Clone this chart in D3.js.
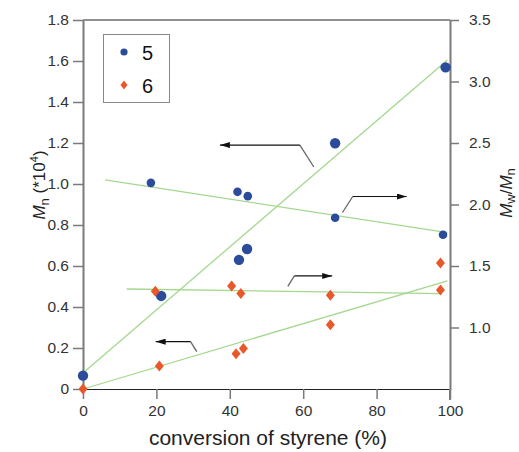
<!DOCTYPE html>
<html><head><meta charset="utf-8">
<script src="https://cdn.jsdelivr.net/npm/d3@7"></script>
<style>body{margin:0;background:#fff;} svg{display:block;font-family:"Liberation Sans",Arial,sans-serif;}</style>
</head><body><svg id="c" width="519" height="452"></svg>
<script>
// ---- data ----
const xTicks = [0, 20, 40, 60, 80, 100];
const leftTicks = [0, 0.2, 0.4, 0.6, 0.8, 1.0, 1.2, 1.4, 1.6, 1.8];
const leftTickLabels = ["0", "0.2", "0.4", "0.6", "0.8", "1.0", "1.2", "1.4", "1.6", "1.8"];
const rightTicks = [1.0, 1.5, 2.0, 2.5, 3.0, 3.5];
const rightTickLabels = ["1.0", "1.5", "2.0", "2.5", "3.0", "3.5"];
const legendLabels = ["5", "6"];

// series 5 (blue)
const s5MnConv = [0, 21.3, 42.5, 44.7, 68.7, 98.8];
const s5Mn = [0.065, 0.454, 0.63, 0.683, 1.199, 1.569];
const s5PdiConv = [18.5, 42.1, 44.9, 68.7, 98.1];
const s5Pdi = [2.176, 2.103, 2.068, 1.892, 1.754];
// series 6 (orange)
const s6MnConv = [0, 20.8, 41.7, 43.7, 67.4, 97.4];
const s6Mn = [0, 0.112, 0.172, 0.197, 0.314, 0.483];
const s6PdiConv = [19.7, 40.5, 43.0, 67.4, 97.4];
const s6Pdi = [1.295, 1.338, 1.276, 1.262, 1.524];

// fit lines [conv, value] pairs
const fit5Mn = [[0, 0.078], [99.3, 1.605]];
const fit6Mn = [[0, 0], [99.3, 0.528]];
const fit5Pdi = [[6.0, 2.2], [99.3, 1.771]];
const fit6Pdi = [[11.9, 1.313], [97.4, 1.276]];

// annotation arrows: axis side, points [conv, value]
const arrows = [
  {axis: "L", pts: [[62.9, 1.083], [59.1, 1.19], [37.3, 1.19]]},
  {axis: "R", pts: [[70.7, 1.935], [73.5, 2.065], [88.2, 2.065]]},
  {axis: "R", pts: [[55.8, 1.335], [57.6, 1.419], [67.9, 1.419]]},
  {axis: "L", pts: [[31.0, 0.182], [29.3, 0.231], [19.8, 0.231]]}
];

// ---- drawing ----
const blue = "#2b4c9b", orange = "#e8582a", green = "#a3d88e", axisGray = "#7a7a7a", txt = "#333";
const svg = d3.select("#c");
const x = d3.scaleLinear().domain([0, 100]).range([83, 450]);
const yL = d3.scaleLinear().domain([0, 1.8]).range([389, 20]);
const yR = d3.scaleLinear().domain([0.5, 3.5]).range([389, 20]);

// frame top
svg.append("line").attr("x1", 83).attr("x2", 450).attr("y1", 20).attr("y2", 20).attr("stroke", "#222").attr("stroke-width", 1);

// bottom axis
const gx = svg.append("g").attr("transform", "translate(0,389)")
  .call(d3.axisBottom(x).tickValues(xTicks).tickFormat(d3.format("d")).tickSize(10).tickPadding(6));
gx.select(".domain").attr("stroke", "#222").attr("stroke-width", 1);
gx.selectAll(".tick line").attr("stroke", axisGray).attr("stroke-width", 1.5);
gx.selectAll(".tick text").attr("fill", txt).attr("font-size", 15.5).attr("font-family", "Liberation Sans, Arial, sans-serif");

// left axis
const gl = svg.append("g").attr("transform", "translate(83,0)")
  .call(d3.axisLeft(yL).tickValues(leftTicks).tickFormat((d, i) => leftTickLabels[i]).tickSize(10).tickSizeOuter(0).tickPadding(4));
gl.select(".domain").attr("stroke", axisGray).attr("stroke-width", 2);
gl.selectAll(".tick line").attr("stroke", axisGray).attr("stroke-width", 1.5);
gl.selectAll(".tick text").attr("fill", txt).attr("font-size", 15.5).attr("font-family", "Liberation Sans, Arial, sans-serif");

// right axis
const gr = svg.append("g").attr("transform", "translate(450,0)")
  .call(d3.axisRight(yR).tickValues(rightTicks).tickFormat((d, i) => rightTickLabels[i]).tickSize(9).tickSizeOuter(0).tickPadding(10));
gr.select(".domain").attr("stroke", axisGray).attr("stroke-width", 2);
gr.selectAll(".tick line").attr("stroke", axisGray).attr("stroke-width", 1.5);
gr.selectAll(".tick text").attr("fill", txt).attr("font-size", 15.5).attr("font-family", "Liberation Sans, Arial, sans-serif");
svg.append("line").attr("x1", 450).attr("x2", 450).attr("y1", 389).attr("y2", 400).attr("stroke", axisGray).attr("stroke-width", 2);

// fit lines
const lineL = d3.line().x(d => x(d[0])).y(d => yL(d[1]));
const lineR = d3.line().x(d => x(d[0])).y(d => yR(d[1]));
[[fit5Mn, lineL], [fit6Mn, lineL], [fit5Pdi, lineR], [fit6Pdi, lineR]].forEach(([d, l]) => {
  svg.append("path").attr("d", l(d)).attr("fill", "none").attr("stroke", green).attr("stroke-width", 1.3);
});

// arrows
svg.append("defs").append("marker").attr("id", "ah").attr("viewBox", "0 0 10 6")
  .attr("refX", 10).attr("refY", 3).attr("markerWidth", 10).attr("markerHeight", 6)
  .attr("markerUnits", "userSpaceOnUse").attr("orient", "auto")
  .append("path").attr("d", "M0,0L10,3L0,6Z").attr("fill", "#111");
arrows.forEach(a => {
  const l = a.axis === "L" ? lineL : lineR;
  svg.append("path").attr("d", l(a.pts.slice(0, 2))).attr("fill", "none").attr("stroke", "#666").attr("stroke-width", 1.3);
  svg.append("path").attr("d", l(a.pts.slice(1))).attr("fill", "none").attr("stroke", "#111").attr("stroke-width", 1.2).attr("marker-end", "url(#ah)");
});

// markers
const diamond = (cx, cy, w, h) => `M${cx},${cy - h}L${cx + w},${cy}L${cx},${cy + h}L${cx - w},${cy}Z`;
function circles(conv, vals, scale, r) {
  svg.append("g").selectAll("circle").data(conv).join("circle")
    .attr("cx", d => x(d)).attr("cy", (d, i) => scale(vals[i])).attr("r", r).attr("fill", blue);
}
function diamonds(conv, vals, scale) {
  svg.append("g").selectAll("path").data(conv).join("path")
    .attr("d", (d, i) => diamond(x(d), scale(vals[i]), 4.5, 5.5)).attr("fill", orange);
}
circles(s5PdiConv, s5Pdi, yR, 4.3);
circles(s5MnConv, s5Mn, yL, 5.2);
diamonds(s6PdiConv, s6Pdi, yR);
diamonds(s6MnConv, s6Mn, yL);

// legend
const lg = svg.append("g");
lg.append("rect").attr("x", 103.5).attr("y", 34.5).attr("width", 66).attr("height", 68).attr("fill", "#fff").attr("stroke", "#888").attr("stroke-width", 1);
lg.append("circle").attr("cx", 124).attr("cy", 52).attr("r", 3.6).attr("fill", blue);
lg.append("path").attr("d", diamond(124, 85, 3.5, 4.5)).attr("fill", orange);
lg.append("text").attr("x", 142).attr("y", 59.5).attr("font-size", 20).attr("fill", "#111").text(legendLabels[0]);
lg.append("text").attr("x", 142).attr("y", 92.5).attr("font-size", 20).attr("fill", "#111").text(legendLabels[1]);

// axis titles
const lt = svg.append("text").attr("transform", "translate(45,185) rotate(-90)").attr("text-anchor", "middle").attr("font-size", 17).attr("fill", "#222");
lt.append("tspan").attr("font-style", "italic").text("M");
lt.append("tspan").attr("font-size", 13).attr("dy", 4).text("n");
lt.append("tspan").attr("dy", -4).text(" (*10");
lt.append("tspan").attr("font-size", 11).attr("dy", -7).text("4");
lt.append("tspan").attr("dy", 7).text(")");

const rt = svg.append("text").attr("transform", "translate(512,193) rotate(-90)").attr("text-anchor", "middle").attr("font-size", 17).attr("fill", "#222");
rt.append("tspan").attr("font-style", "italic").text("M");
rt.append("tspan").attr("font-size", 13).attr("dy", 3).text("w");
rt.append("tspan").attr("dy", -3).text("/");
rt.append("tspan").attr("font-style", "italic").text("M");
rt.append("tspan").attr("font-size", 13).attr("dy", 3).text("n");

svg.append("text").attr("x", 268).attr("y", 445).attr("text-anchor", "middle").attr("font-size", 21).attr("fill", "#222").text("conversion of styrene (%)");
</script></body></html>
